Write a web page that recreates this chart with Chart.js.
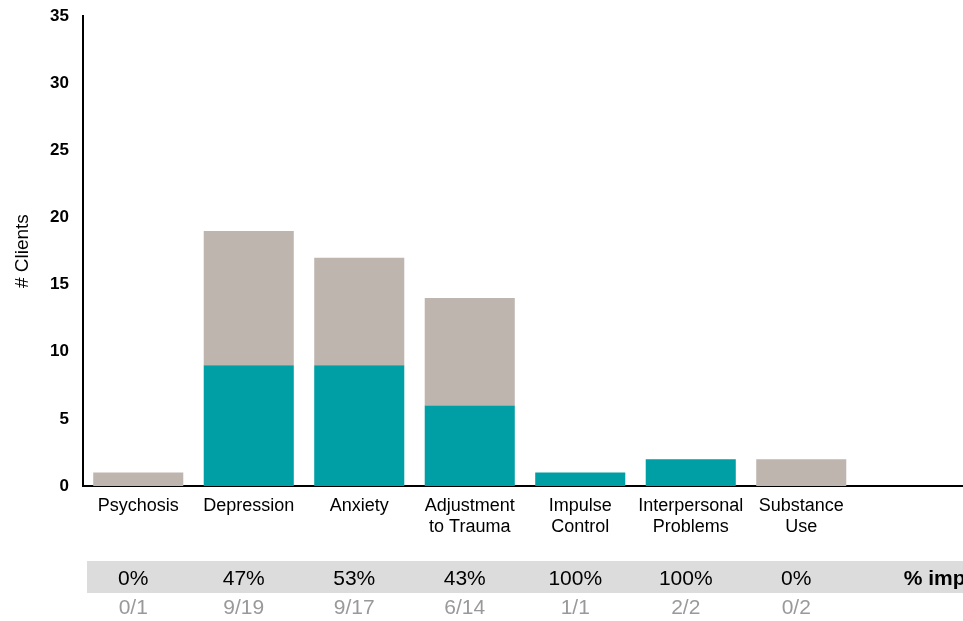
<!DOCTYPE html>
<html>
<head>
<meta charset="utf-8">
<script src="https://cdn.jsdelivr.net/npm/chart.js@4/dist/chart.umd.min.js"></script>
<style>
  html, body { margin: 0; padding: 0; background: #fff; overflow: hidden; }
  #wrap { width: 967px; height: 621px; }
</style>
</head>
<body>
<div id="wrap"><canvas id="chart"></canvas></div>
<script>
// categories (last slot is the empty "% improved" column)
const categories = ["Psychosis", "Depression", "Anxiety", ["Adjustment", "to Trauma"],
  ["Impulse", "Control"], ["Interpersonal", "Problems"], ["Substance", "Use"], ""];
const improved = [0, 9, 9, 6, 1, 2, 0, null];
const notImproved = [1, 10, 8, 8, 0, 0, 2, null];
const yTicks = [0, 5, 10, 15, 20, 25, 30, 35];

const TEAL = "#009ea5";
const GREY = "#beb5af";
const FONT = "Arial, 'Liberation Sans', sans-serif";

// table under the chart: % improved and n/total
const tablePlugin = {
  id: "improvedTable",
  afterDraw(chart) {
    const ctx = chart.ctx;
    const x = chart.scales.x;
    ctx.save();
    ctx.fillStyle = "#dcdcdc";
    ctx.fillRect(87, 561, chart.width - 87, 32);
    ctx.textBaseline = "middle";
    ctx.textAlign = "center";
    for (let i = 0; i < categories.length - 1; i++) {
      const total = improved[i] + notImproved[i];
      const cx = x.getPixelForValue(i) - 5;
      ctx.font = "21px " + FONT;
      ctx.fillStyle = "#000";
      ctx.fillText(Math.round(improved[i] / total * 100) + "%", cx, 579);
      ctx.fillStyle = "#999";
      ctx.fillText(improved[i] + "/" + total, cx, 608);
    }
    ctx.textAlign = "left";
    ctx.font = "bold 21px " + FONT;
    ctx.fillStyle = "#000";
    ctx.fillText("% improved", x.getPixelForValue(categories.length - 1) - 8, 579);
    ctx.restore();
  }
};

new Chart(document.getElementById("chart"), {
  type: "bar",
  data: {
    labels: categories,
    datasets: [
      { label: "Improved", data: improved, backgroundColor: TEAL },
      { label: "Not improved", data: notImproved, backgroundColor: GREY }
    ]
  },
  options: {
    responsive: true,
    maintainAspectRatio: false,
    animation: false,
    datasets: { bar: { categoryPercentage: 1, barPercentage: 0.815 } },
    layout: { padding: { top: 11, left: 0, right: 0, bottom: 0 } },
    plugins: { legend: { display: false }, tooltip: { enabled: false } },
    scales: {
      x: {
        stacked: true,
        grid: { display: false },
        border: { color: "#000", width: 2 },
        ticks: { color: "#000", font: { family: FONT, size: 18 }, padding: 1, maxRotation: 0, autoSkip: false },
        afterFit: s => { s.height = 135; }
      },
      y: {
        stacked: true,
        min: 0,
        max: 35,
        grid: { display: false },
        border: { color: "#000", width: 2 },
        afterBuildTicks: s => { s.ticks = yTicks.map(v => ({ value: v })); },
        ticks: { color: "#000", font: { family: FONT, size: 17, weight: "bold" }, padding: 6 },
        title: { display: true, text: "# Clients", color: "#000", font: { family: FONT, size: 19 }, padding: { top: 11, bottom: 0 } },
        afterFit: s => { s.width = 83; }
      }
    }
  },
  plugins: [tablePlugin]
});
</script>
</body>
</html>
